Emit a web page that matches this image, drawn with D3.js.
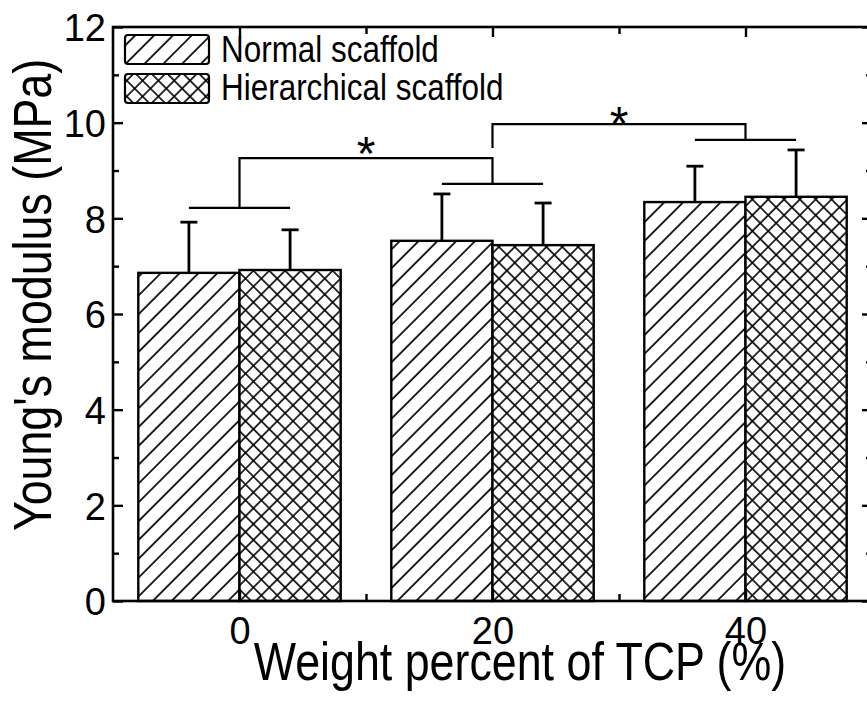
<!DOCTYPE html>
<html>
<head>
<meta charset="utf-8">
<script src="https://cdn.jsdelivr.net/npm/d3@7"></script>
<style>
  html, body { margin: 0; padding: 0; background: #fff; }
  svg { display: block; }
  text { font-family: "Liberation Sans", Arial, sans-serif; fill: #000; }
</style>
</head>
<body>
<svg id="chart" width="867" height="704"></svg>
<script>
// ---- data ----
const categories = [0, 20, 40];
const seriesNames = ["Normal scaffold", "Hierarchical scaffold"];
const normalValues = [6.86, 7.53, 8.34];
const normalErrors = [1.06, 0.98, 0.75];
const hierValues = [6.92, 7.44, 8.45];
const hierErrors = [0.84, 0.88, 0.98];
const yTicks = [0, 2, 4, 6, 8, 10, 12];
const yMinorTicks = [1, 3, 5, 7, 9, 11];
const xTicks = [0, 20, 40];
const xMinorTicks = [10, 30];
// significance annotation
const groupLineY = [8.22, 8.72, 9.64];
const sigPairs = [[0, 20], [20, 40]];
const sigBracketY = [9.26, 9.97];
const sigLeftLegBottom = [8.22, 9.47];
const sigRightLegBottom = [8.72, 9.64];
const sigStarX = [10, 30];
const sigStarY = [9.58, 10.2];

(function () {
// ---- layout ----
const svg = d3.select("#chart");
const mLeft = 113, mRight = 872, mTop = 27, mBottom = 601;
const x = d3.scaleLinear().domain([-10, 50]).range([mLeft, mRight]);
const y = d3.scaleLinear().domain([0, 12]).range([mBottom, mTop]);
const half = 8; // bar width in x units

// patterns
const defs = svg.append("defs");
const diag = defs.append("pattern").attr("id", "diag")
  .attr("patternUnits", "userSpaceOnUse").attr("width", 13.3).attr("height", 13.3)
  .attr("patternTransform", "rotate(45)");
diag.append("rect").attr("width", 13.3).attr("height", 13.3).attr("fill", "#fff");
diag.append("line").attr("x1", 1).attr("y1", 0).attr("x2", 1).attr("y2", 13.3)
  .attr("stroke", "#000").attr("stroke-width", 1.7);

const cross = defs.append("pattern").attr("id", "cross")
  .attr("patternUnits", "userSpaceOnUse").attr("width", 11.2).attr("height", 11.2)
  .attr("patternTransform", "rotate(45)");
cross.append("rect").attr("width", 11.2).attr("height", 11.2).attr("fill", "#fff");
cross.append("line").attr("x1", 1).attr("y1", 0).attr("x2", 1).attr("y2", 11.2)
  .attr("stroke", "#000").attr("stroke-width", 1.6);
cross.append("line").attr("x1", 0).attr("y1", 1).attr("x2", 11.2).attr("y2", 1)
  .attr("stroke", "#000").attr("stroke-width", 1.6);

const series = [
  { name: seriesNames[0], values: normalValues, errors: normalErrors, fill: "url(#diag)", off: -half },
  { name: seriesNames[1], values: hierValues, errors: hierErrors, fill: "url(#cross)", off: 0 }
];

// bars
const gBars = svg.append("g");
series.forEach(s => {
  gBars.selectAll(null).data(categories).enter().append("rect")
    .attr("x", (c) => x(c + s.off))
    .attr("y", (c, i) => y(s.values[i]))
    .attr("width", x(half) - x(0))
    .attr("height", (c, i) => y(0) - y(s.values[i]))
    .attr("fill", s.fill).attr("stroke", "#000").attr("stroke-width", 2.4);
  categories.forEach((c, i) => {
    const cx = x(c + s.off + half / 2);
    gBars.append("line").attr("x1", cx).attr("x2", cx)
      .attr("y1", y(s.values[i])).attr("y2", y(s.values[i] + s.errors[i]))
      .attr("stroke", "#000").attr("stroke-width", 2.8);
    gBars.append("line").attr("x1", cx - 8.5).attr("x2", cx + 8.5)
      .attr("y1", y(s.values[i] + s.errors[i])).attr("y2", y(s.values[i] + s.errors[i]))
      .attr("stroke", "#000").attr("stroke-width", 2.8);
  });
});

// significance lines
const gSig = svg.append("g").attr("stroke", "#000").attr("stroke-width", 2.2).attr("fill", "none");
categories.forEach((c, i) => {
  gSig.append("line").attr("x1", x(c - half / 2)).attr("x2", x(c + half / 2))
    .attr("y1", y(groupLineY[i])).attr("y2", y(groupLineY[i]));
});
sigPairs.forEach((p, i) => {
  gSig.append("path").attr("d",
    `M${x(p[0])},${y(sigLeftLegBottom[i])}V${y(sigBracketY[i])}H${x(p[1])}V${y(sigRightLegBottom[i])}`);
  svg.append("text").attr("x", x(sigStarX[i])).attr("y", y(sigStarY[i]) + 27)
    .attr("text-anchor", "middle").attr("font-size", 48).text("*");
});

// axes (ticks inside)
const axisStyle = g => { g.select(".domain").remove(); g.selectAll(".tick line").attr("stroke", "#000").attr("stroke-width", 2.4); };
svg.append("g").attr("transform", `translate(${mLeft},0)`)
  .call(d3.axisLeft(y).tickValues(yTicks).tickSize(-10).tickPadding(7).tickFormat(d3.format("d")))
  .call(axisStyle)
  .call(g => g.selectAll(".tick text").attr("x", -7).attr("font-size", 38).attr("font-family", "Liberation Sans, Arial, sans-serif").attr("fill", "#000").attr("dy", "0.36em"));
svg.append("g").attr("transform", `translate(${mLeft},0)`)
  .call(d3.axisLeft(y).tickValues(yMinorTicks).tickSize(-6).tickFormat(""))
  .call(axisStyle);
svg.append("g").attr("transform", `translate(${mRight},0)`)
  .call(d3.axisRight(y).tickValues(yTicks).tickSize(-10).tickFormat(""))
  .call(axisStyle);
svg.append("g").attr("transform", `translate(${mRight},0)`)
  .call(d3.axisRight(y).tickValues(yMinorTicks).tickSize(-6).tickFormat(""))
  .call(axisStyle);
svg.append("g").attr("transform", `translate(0,${mBottom})`)
  .call(d3.axisBottom(x).tickValues(xTicks).tickSize(-10).tickPadding(16).tickFormat(d3.format("d")))
  .call(axisStyle)
  .call(g => g.selectAll(".tick text").attr("font-size", 38).attr("font-family", "Liberation Sans, Arial, sans-serif").attr("fill", "#000").attr("dy", "0.71em"));
svg.append("g").attr("transform", `translate(0,${mBottom})`)
  .call(d3.axisBottom(x).tickValues(xMinorTicks).tickSize(-7).tickFormat(""))
  .call(axisStyle);
svg.append("g").attr("transform", `translate(0,${mTop})`)
  .call(d3.axisTop(x).tickValues(xTicks).tickSize(-10).tickFormat(""))
  .call(axisStyle);
svg.append("g").attr("transform", `translate(0,${mTop})`)
  .call(d3.axisTop(x).tickValues(xMinorTicks).tickSize(-7).tickFormat(""))
  .call(axisStyle);

// frame
svg.append("rect").attr("x", mLeft).attr("y", mTop).attr("width", mRight - mLeft).attr("height", mBottom - mTop)
  .attr("fill", "none").attr("stroke", "#000").attr("stroke-width", 2.6);

// legend
const leg = svg.append("g");
series.forEach((s, i) => {
  leg.append("rect").attr("x", 125).attr("y", 35 + i * 39).attr("width", 84).attr("height", 29)
    .attr("rx", 3).attr("fill", s.fill).attr("stroke", "#000").attr("stroke-width", 2.2);
  leg.append("text").attr("transform", `translate(221,${62 + i * 38}) scale(0.85,1)`)
    .attr("font-size", 37).text(s.name);
});

// axis titles
svg.append("text").attr("transform", `translate(520,680) scale(0.845,1)`)
  .attr("text-anchor", "middle").attr("font-size", 53).text("Weight percent of TCP (%)");
svg.append("text").attr("transform", `translate(51,295) rotate(-90) scale(0.845,1)`)
  .attr("text-anchor", "middle").attr("font-size", 53).text("Young's modulus (MPa)");
})();
</script>
</body>
</html>
